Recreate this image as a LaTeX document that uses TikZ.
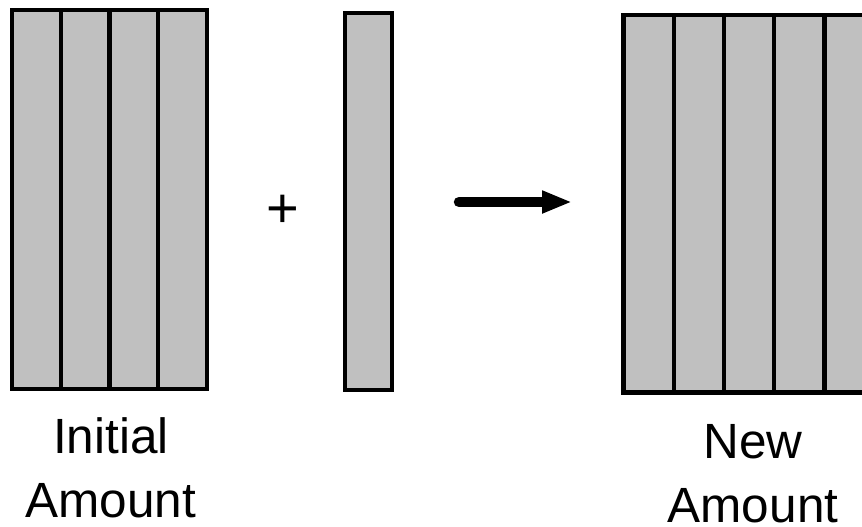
\documentclass[tikz,border=0pt]{standalone}
\usepackage{fontspec}
\setmainfont{Liberation Sans}
\usetikzlibrary{arrows.meta}
\definecolor{barfill}{HTML}{C0C0C0}
\begin{document}
\begin{tikzpicture}[x=1pt,y=-1pt,
  bar/.style={draw=black, fill=barfill, line width=4.3pt, inner sep=0pt,
              minimum width=#1, minimum height=379pt},
  bar/.default=49pt,
  caption/.style={align=center, inner sep=0pt, text depth=0pt,
                  font=\fontsize{49.5}{64}\selectfont},
  sign/.style={inner sep=0pt, font=\fontsize{56}{60}\selectfont}]
\path[use as bounding box, clip] (0,0) rectangle (862,527);

% initial amount: four strips
\node[bar=48.75pt] (i1) at (36.375,199.25) {};
\node[bar=48.75pt] (i2) at (85.125,199.25) {};
\node[bar=48.75pt] (i3) at (133.875,199.25) {};
\node[bar=48.75pt] (i4) at (182.625,199.25) {};

% added strip
\node[sign] (plus) at (283,211) {+};
\node[bar=47pt, minimum height=377pt] (add) at (368.5,201.5) {};

% arrow
\coordinate (arrS) at (459,202);
\coordinate (arrE) at (572,202);
\draw[line width=10.5pt, line cap=round, -{Triangle[length=30pt,width=21pt]}] (arrS) -- (arrE);

% new amount: five strips
\node[bar=50.25pt, minimum height=377.5pt] (n1) at (648.625,203.75) {};
\node[bar=50.25pt, minimum height=377.5pt] (n2) at (698.875,203.75) {};
\node[bar=50.25pt, minimum height=377.5pt] (n3) at (749.125,203.75) {};
\node[bar=50.25pt, minimum height=377.5pt] (n4) at (799.375,203.75) {};
\node[bar=50.25pt, minimum height=377.5pt] (n5) at (849.625,203.75) {};

% captions (anchored on the baseline of the last line)
\node[caption, anchor=base] (lblI) at (111,517) {Initial\\Amount};
\node[caption, anchor=base] (lblN) at (753,522) {New\\Amount};
\end{tikzpicture}
\end{document}
